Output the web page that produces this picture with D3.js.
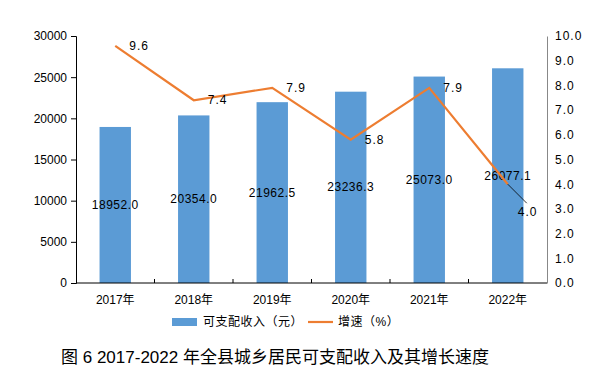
<!DOCTYPE html>
<html>
<head>
<meta charset="utf-8">
<script src="https://cdn.jsdelivr.net/npm/d3@7"></script>
<style>
  body { margin: 0; background: #fff; }
  text { font-family: "Liberation Sans", "Noto Sans CJK SC", sans-serif; fill: #000; }
</style>
</head>
<body>
<script>
// Chart data
var years = ["2017年", "2018年", "2019年", "2020年", "2021年", "2022年"];
var income = [18952.0, 20354.0, 21962.5, 23236.3, 25073.0, 26077.1];
var growth = [9.6, 7.4, 7.9, 5.8, 7.9, 4.0];
var leftTicks = [0, 5000, 10000, 15000, 20000, 25000, 30000];
var rightTicks = [0, 1, 2, 3, 4, 5, 6, 7, 8, 9, 10];

var width = 611, height = 389;
var plot = {left: 76, right: 547, top: 36, bottom: 283};

var svg = d3.select("body").append("svg")
    .attr("width", width)
    .attr("height", height);

// Scales
var x = d3.scaleBand()
    .domain(years)
    .range([plot.left, plot.right]);

var yLeft = d3.scaleLinear()
    .domain([0, 30000])
    .range([plot.bottom, plot.top]);

var yRight = d3.scaleLinear()
    .domain([0, 10])
    .range([plot.bottom, plot.top]);

var barWidth = x.bandwidth() * 0.4;

// Bars
svg.selectAll("rect.bar")
    .data(income)
    .enter().append("rect")
    .attr("class", "bar")
    .attr("x", function(d, i) { return x(years[i]) + (x.bandwidth() - barWidth) / 2; })
    .attr("y", function(d) { return yLeft(d); })
    .attr("width", barWidth)
    .attr("height", function(d) { return plot.bottom - yLeft(d); })
    .attr("fill", "#5B9BD5");

// Left axis
var leftAxis = svg.append("g")
    .attr("transform", "translate(" + plot.left + ",0)")
    .call(d3.axisLeft(yLeft).tickValues(leftTicks).tickSize(5).tickPadding(4).tickFormat(d3.format("d")));
leftAxis.select(".domain").attr("stroke", "#000");
leftAxis.selectAll("text").attr("font-size", 12);

// Right axis
var rightAxis = svg.append("g")
    .attr("transform", "translate(" + plot.right + ",0)")
    .call(d3.axisRight(yRight).tickValues(rightTicks).tickSize(0).tickPadding(8).tickFormat(d3.format(".1f")));
rightAxis.select(".domain").attr("stroke", "#888");
rightAxis.selectAll("text").attr("font-size", 12).attr("letter-spacing", 1);

// Bottom axis
var bottom = svg.append("g");
bottom.append("line")
    .attr("x1", plot.left).attr("x2", plot.right)
    .attr("y1", plot.bottom).attr("y2", plot.bottom)
    .attr("stroke", "#000");
bottom.selectAll("line.tick")
    .data(years.slice(1))
    .enter().append("line")
    .attr("class", "tick")
    .attr("x1", function(d) { return x(d); })
    .attr("x2", function(d) { return x(d); })
    .attr("y1", plot.bottom - 4)
    .attr("y2", plot.bottom)
    .attr("stroke", "#000");
bottom.selectAll("text")
    .data(years)
    .enter().append("text")
    .attr("x", function(d) { return x(d) + x.bandwidth() / 2; })
    .attr("y", 304)
    .attr("text-anchor", "middle")
    .attr("font-size", 12)
    .text(function(d) { return d; });

// Bar labels
svg.selectAll("text.barLabel")
    .data(income)
    .enter().append("text")
    .attr("class", "barLabel")
    .attr("x", function(d, i) { return x(years[i]) + x.bandwidth() / 2; })
    .attr("y", function(d) { return (yLeft(d) + plot.bottom) / 2 + 4; })
    .attr("text-anchor", "middle")
    .attr("font-size", 12)
    .attr("letter-spacing", 0.5)
    .text(function(d) { return d.toFixed(1); });

// Growth line
var line = d3.line()
    .x(function(d, i) { return x(years[i]) + x.bandwidth() / 2; })
    .y(function(d) { return yRight(d); });

svg.append("path")
    .datum(growth)
    .attr("d", line)
    .attr("fill", "none")
    .attr("stroke", "#ED7D31")
    .attr("stroke-width", 2.2);

// Leader line for last point
var lastX = x(years[5]) + x.bandwidth() / 2, lastY = yRight(growth[5]);
svg.append("line")
    .attr("x1", lastX).attr("y1", lastY)
    .attr("x2", lastX + 19).attr("y2", lastY + 19)
    .attr("stroke", "#000")
    .attr("stroke-width", 0.8);

// Line labels
svg.selectAll("text.lineLabel")
    .data(growth)
    .enter().append("text")
    .attr("class", "lineLabel")
    .attr("x", function(d, i) { return x(years[i]) + x.bandwidth() / 2 + (i == 5 ? 10 : 14); })
    .attr("y", function(d, i) { return yRight(d) + (i == 5 ? 32 : 4); })
    .attr("font-size", 12)
    .attr("letter-spacing", 1)
    .text(function(d) { return d.toFixed(1); });

// Legend
var legend = svg.append("g");
legend.append("rect")
    .attr("x", 172).attr("y", 318)
    .attr("width", 25).attr("height", 8)
    .attr("fill", "#5B9BD5");
legend.append("text")
    .attr("x", 203).attr("y", 326)
    .attr("font-size", 12)
    .attr("letter-spacing", 0.5)
    .text("可支配收入（元）");
legend.append("line")
    .attr("x1", 308).attr("x2", 333)
    .attr("y1", 322).attr("y2", 322)
    .attr("stroke", "#ED7D31")
    .attr("stroke-width", 2.2);
legend.append("text")
    .attr("x", 338).attr("y", 326)
    .attr("font-size", 12)
    .attr("letter-spacing", 0.5)
    .text("增速（%）");

// Title
svg.append("text")
    .attr("x", 61).attr("y", 363)
    .attr("font-size", 17)
    .attr("font-family", "'Noto Sans CJK SC', sans-serif")
    .text("图 6 2017-2022 年全县城乡居民可支配收入及其增长速度");
</script>
</body>
</html>
